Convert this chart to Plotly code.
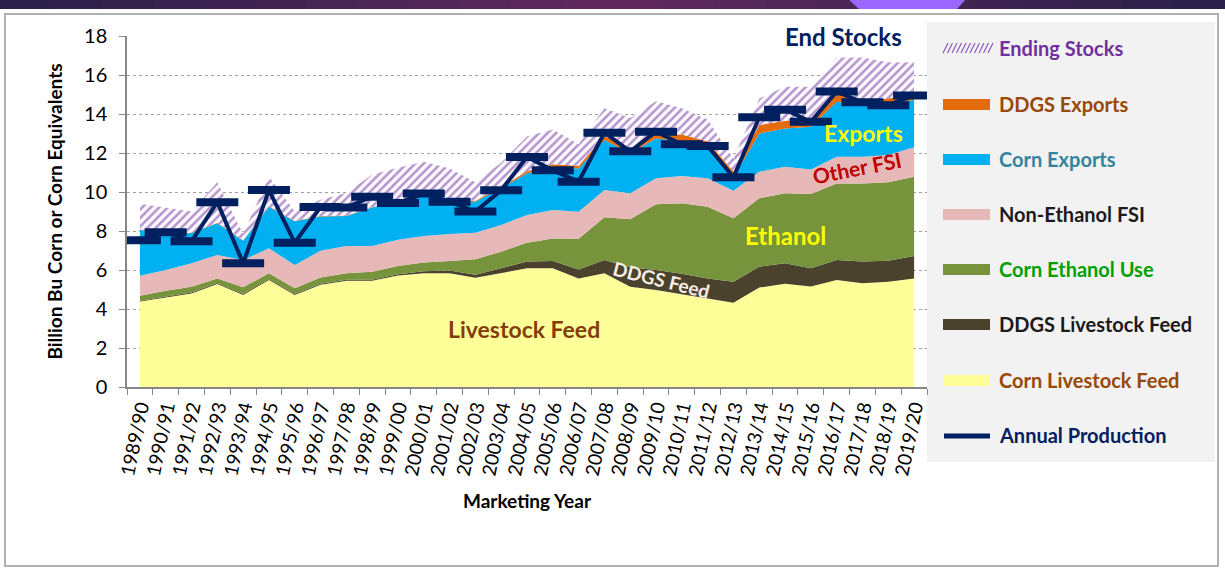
import plotly.graph_objects as go

years = ["1989/90", "1990/91", "1991/92", "1992/93", "1993/94", "1994/95", "1995/96",
         "1996/97", "1997/98", "1998/99", "1999/00", "2000/01", "2001/02", "2002/03",
         "2003/04", "2004/05", "2005/06", "2006/07", "2007/08", "2008/09", "2009/10",
         "2010/11", "2011/12", "2012/13", "2013/14", "2014/15", "2015/16", "2016/17",
         "2017/18", "2018/19", "2019/20"]

corn_feed = [4.38, 4.60, 4.80, 5.28, 4.72, 5.49, 4.72, 5.25, 5.45, 5.45, 5.72, 5.83, 5.83, 5.60,
             5.83, 6.09, 6.09, 5.57, 5.83, 5.14, 4.97, 4.75, 4.55, 4.32, 5.10, 5.30, 5.16, 5.49,
             5.32, 5.40, 5.57]
ddgs_feed = [0.04, 0.04, 0.04, 0.05, 0.05, 0.05, 0.05, 0.05, 0.05, 0.05, 0.06, 0.10, 0.14, 0.16,
             0.26, 0.34, 0.37, 0.46, 0.68, 1.00, 1.03, 1.06, 1.02, 1.08, 1.07, 1.04, 0.93, 1.02,
             1.11, 1.07, 1.15]
ethanol = [0.26, 0.30, 0.30, 0.24, 0.34, 0.29, 0.29, 0.32, 0.33, 0.41, 0.42, 0.45, 0.49, 0.79,
           0.85, 0.97, 1.16, 1.57, 2.19, 2.46, 3.37, 3.61, 3.68, 3.25, 3.51, 3.59, 3.81, 3.93,
           4.01, 4.03, 4.06]
non_eth_fsi = [1.03, 1.06, 1.20, 1.20, 1.40, 1.28, 1.20, 1.37, 1.40, 1.32, 1.35, 1.36, 1.39, 1.36,
               1.37, 1.42, 1.46, 1.39, 1.40, 1.33, 1.33, 1.40, 1.45, 1.42, 1.36, 1.37, 1.26, 1.37,
               1.37, 1.40, 1.51]
corn_exports = [2.36, 1.82, 1.56, 1.63, 0.99, 2.14, 2.24, 1.76, 1.54, 1.97, 1.95, 2.06, 1.77, 1.59,
                1.89, 2.14, 2.22, 2.21, 2.57, 2.07, 2.05, 1.78, 1.60, 0.68, 1.96, 1.96, 2.19, 2.82,
                2.60, 2.60, 2.43]
ddgs_exports = [0.02, 0.02, 0.02, 0.02, 0.02, 0.02, 0.02, 0.02, 0.02, 0.02, 0.02, 0.02, 0.03, 0.05,
                0.07, 0.10, 0.12, 0.15, 0.20, 0.20, 0.25, 0.35, 0.30, 0.30, 0.44, 0.40, 0.38, 0.50,
                0.30, 0.30, 0.34]
ending_stocks = [1.31, 1.36, 1.08, 2.08, 0.33, 1.53, 0.48, 0.83, 1.16, 1.68, 1.73, 1.73, 1.56, 0.95,
                 1.23, 1.79, 1.78, 1.10, 1.43, 1.60, 1.65, 1.35, 1.10, 0.65, 1.36, 1.74, 1.67, 1.77,
                 2.19, 1.85, 1.59]
production = [7.53, 7.93, 7.47, 9.48, 6.34, 10.10, 7.40, 9.23, 9.21, 9.76, 9.43, 9.92, 9.50, 9.00,
              10.09, 11.80, 11.11, 10.53, 13.04, 12.09, 13.09, 12.45, 12.36, 10.76, 13.83, 14.22,
              13.60, 15.15, 14.60, 14.45, 14.95]

y_ticks = [0, 2, 4, 6, 8, 10, 12, 14, 16, 18]

FONT = "Lato"
NAVY = "#002060"
HATCH = "#7030a0"

# legend entries, top to bottom: (label, swatch colour, text colour, kind)
legend_items = [
    ("Ending Stocks", "#8e5cc4", "#7030a0", "hatch"),
    ("DDGS Exports", "#e46c0a", "#984807", "box"),
    ("Corn Exports", "#00b0f0", "#31859c", "box"),
    ("Non-Ethanol FSI", "#e6b9b8", "#1a1a1a", "box"),
    ("Corn Ethanol Use", "#77933c", "#00a000", "box"),
    ("DDGS Livestock Feed", "#4a422d", "#1a1a1a", "box"),
    ("Corn Livestock Feed", "#ffff99", "#984807", "box"),
    ("Annual Production", NAVY, "#002060", "line"),
]

# stacked areas, bottom to top: (name, values, fill colour)
areas = [
    ("Corn Livestock Feed", corn_feed, "#ffff99"),
    ("DDGS Livestock Feed", ddgs_feed, "#4a422d"),
    ("Corn Ethanol Use", ethanol, "#77933c"),
    ("Non-Ethanol FSI", non_eth_fsi, "#e6b9b8"),
    ("Corn Exports", corn_exports, "#00b0f0"),
    ("DDGS Exports", ddgs_exports, "#e46c0a"),
]

fig = go.Figure()
for name, vals, col in areas:
    fig.add_trace(go.Scatter(
        x=years, y=vals, name=name, mode="lines", stackgroup="use",
        line=dict(width=0, color=col), fillcolor=col, showlegend=False))

fig.add_trace(go.Scatter(
    x=years, y=ending_stocks, name="Ending Stocks", mode="lines", stackgroup="use",
    line=dict(width=0, color=HATCH), showlegend=False,
    fillpattern=dict(shape="/", fgcolor=HATCH, bgcolor="white", size=6, solidity=0.45)))

fig.add_trace(go.Scatter(
    x=years, y=production, name="Annual Production", mode="lines+markers",
    line=dict(width=4, color=NAVY), showlegend=False,
    marker=dict(symbol="line-ew", size=30, line=dict(width=8, color=NAVY))))

# chart annotations
ann = [
    dict(x=27.25, y=17.95, text="End Stocks", color=NAVY, size=24, angle=0, bg="white"),
    dict(x=28.05, y=13.05, text="Exports", color="#ffff00", size=23, angle=0, bg=None),
    dict(x=27.8, y=11.25, text="Other FSI", color="#c00000", size=21, angle=-11, bg=None),
    dict(x=25.0, y=7.75, text="Ethanol", color="#ffff00", size=24, angle=0, bg=None),
    dict(x=20.2, y=5.5, text="DDGS Feed", color="#f7eee4", size=19, angle=14, bg=None),
    dict(x=14.9, y=2.95, text="Livestock Feed", color="#843c0c", size=23, angle=0, bg=None),
]
for a in ann:
    fig.add_annotation(x=a["x"], y=a["y"], xref="x", yref="y", text=a["text"],
                       showarrow=False, textangle=a["angle"],
                       bgcolor=a["bg"] if a["bg"] else "rgba(0,0,0,0)",
                       font=dict(family=FONT, size=a["size"], color=a["color"], weight="bold"))

# pixel -> paper helpers for the decorations (plot area: x 127..927, y 36..387)
def px(x):
    return (x - 127) / 800.0


def py(y):
    return (387 - y) / 351.0


shapes = []
# outer frame
shapes.append(dict(type="rect", xref="paper", yref="paper", x0=px(5), x1=px(1218),
                   y0=py(566), y1=py(14), line=dict(color="#b0b0b0", width=2),
                   fillcolor="rgba(0,0,0,0)", layer="below"))
# legend panel
shapes.append(dict(type="rect", xref="paper", yref="paper", x0=px(927), x1=px(1215),
                   y0=py(462), y1=py(22), line=dict(width=0), fillcolor="#f2f2f2",
                   layer="below"))
# header band
n_seg = 24
for i in range(n_seg):
    t = (i + 0.5) / n_seg
    m = 1 - abs(t - 0.5) * 2
    c0, c1 = (40, 32, 72), (98, 42, 96)
    col = "rgb(%d,%d,%d)" % tuple(int(c0[k] + (c1[k] - c0[k]) * m) for k in range(3))
    shapes.append(dict(type="rect", xref="paper", yref="paper",
                       x0=px(1225 * i / n_seg), x1=px(1225 * (i + 1) / n_seg + 1),
                       y0=py(9), y1=py(-1), line=dict(width=0), fillcolor=col))
shapes.append(dict(type="path", xref="paper", yref="paper",
                   path="M %f %f L %f %f L %f %f L %f %f Z" % (
                       px(848), py(-1), px(966), py(-1), px(957), py(9), px(859), py(9)),
                   fillcolor="#9966ff", line=dict(width=0)))

# custom legend (swatches + labels)
item_y = [48, 104, 159, 214, 269, 324, 380, 435]
sw_x0, sw_x1, text_x = 943, 990, 997
for (label, col, tcol, kind), yc in zip(legend_items, item_y):
    if kind == "box":
        shapes.append(dict(type="rect", xref="paper", yref="paper",
                           x0=px(sw_x0), x1=px(sw_x1), y0=py(yc + 6), y1=py(yc - 5),
                           line=dict(width=0), fillcolor=col))
    elif kind == "line":
        shapes.append(dict(type="line", xref="paper", yref="paper",
                           x0=px(sw_x0 + 1), x1=px(sw_x1), y0=py(yc + 1), y1=py(yc + 1),
                           line=dict(width=5, color=col)))
    else:
        segs = []
        xs = sw_x0
        while xs + 5 <= sw_x1 + 3:
            segs.append("M %f %f L %f %f" % (px(xs), py(yc + 5), px(xs + 5), py(yc - 5)))
            xs += 4.5
        shapes.append(dict(type="path", xref="paper", yref="paper", path=" ".join(segs),
                           line=dict(width=1.2, color=col)))
    fig.add_annotation(x=px(text_x), y=py(yc), xref="paper", yref="paper",
                       xanchor="left", yanchor="middle", text=label, showarrow=False,
                       font=dict(family=FONT, size=20, color=tcol, weight="bold"))

fig.update_layout(
    width=1225, height=571,
    margin=dict(l=127, r=298, t=36, b=184),
    plot_bgcolor="white", paper_bgcolor="white",
    font=dict(family=FONT, color="#000000"),
    shapes=shapes,
    showlegend=False,
    xaxis=dict(type="category", range=[-0.5, 30.5], tickangle=-78,
               tickfont=dict(family=FONT, size=19, color="#000000"),
               showline=True, linecolor="#868686", linewidth=1.5,
               ticks="outside", ticklen=6, tickcolor="#868686", tickson="boundaries",
               showgrid=False, automargin=False,
               title=dict(text="Marketing Year", standoff=18,
                          font=dict(family=FONT, size=19, weight="bold"))),
    yaxis=dict(range=[0, 18], tickvals=y_ticks, tickfont=dict(family=FONT, size=20, color="#000000"),
               showline=True, linecolor="#868686", linewidth=1.5,
               ticks="outside", ticklen=6, tickcolor="#868686", ticklabelstandoff=8,
               showgrid=True, gridcolor="#a0a0a0", griddash="dot", gridwidth=1,
               zeroline=False, automargin=False,
               title=dict(text="Billion Bu Corn or Corn Equivalents", standoff=16,
                          font=dict(family=FONT, size=19, weight="bold"))),
)

fig.write_html("out.html", config={"displayModeBar": False},
               post_script="document.body.style.margin='0';")
